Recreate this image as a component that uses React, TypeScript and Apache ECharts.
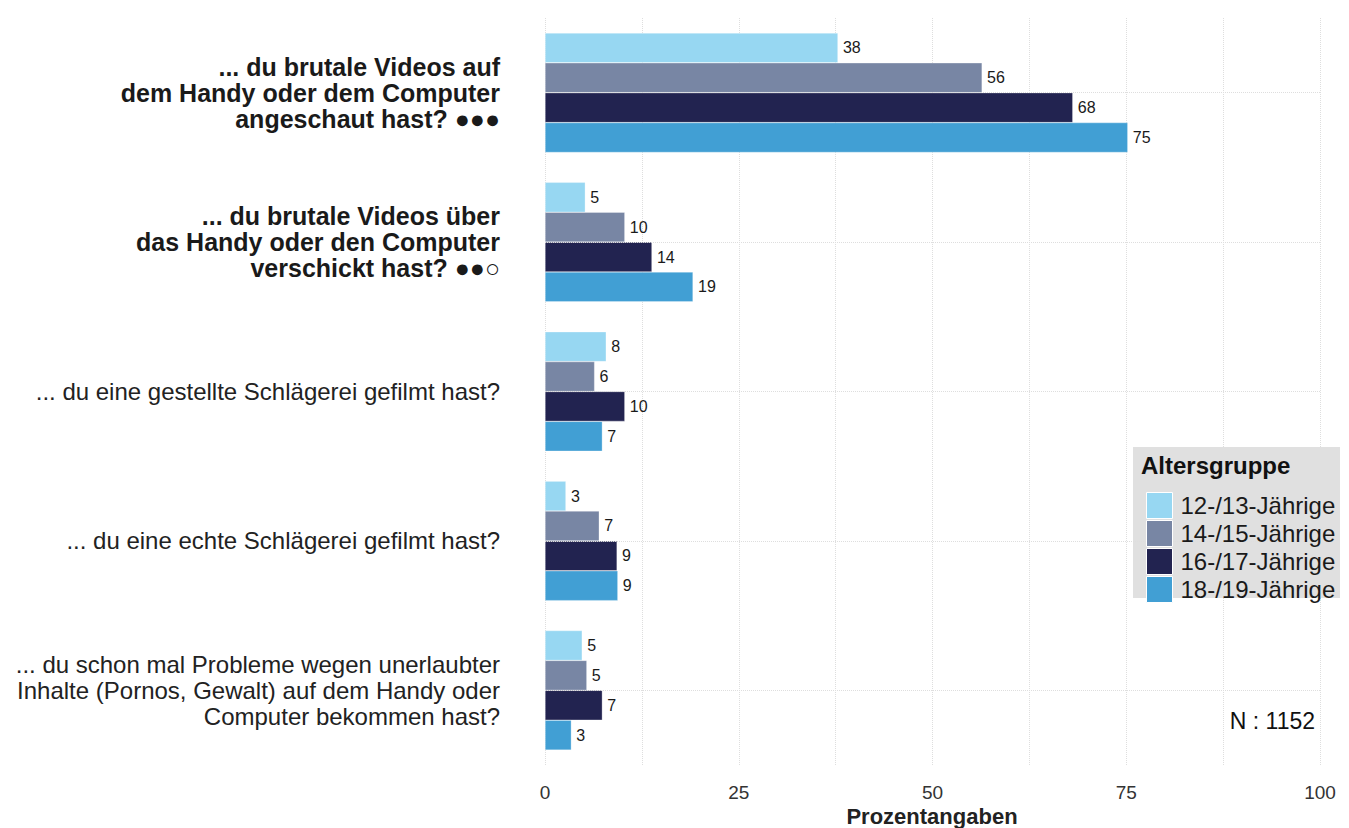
import React, { useEffect, useRef } from "react";
import * as echarts from "echarts";

const categories = [
  "{b|... du brutale Videos auf}\n{b|dem Handy oder dem Computer}\n{b|angeschaut hast? ●●●}",
  "{b|... du brutale Videos über}\n{b|das Handy oder den Computer}\n{b|verschickt hast? ●●○}",
  "{n|... du eine gestellte Schlägerei gefilmt hast?}",
  "{n|... du eine echte Schlägerei gefilmt hast?}",
  "{n|... du schon mal Probleme wegen unerlaubter}\n{n|Inhalte (Pornos, Gewalt) auf dem Handy oder}\n{n|Computer bekommen hast?}",
];
const catKeys = ["c1", "c2", "c3", "c4", "c5"];

const seriesNames = ["12-/13-Jährige", "14-/15-Jährige", "16-/17-Jährige", "18-/19-Jährige"];
const age1213 = [37.8, 5.2, 7.9, 2.7, 4.8];
const age1415 = [56.4, 10.3, 6.4, 7.0, 5.4];
const age1617 = [68.1, 13.8, 10.3, 9.3, 7.4];
const age1819 = [75.2, 19.1, 7.4, 9.4, 3.4];
const seriesValues = [age1213, age1415, age1617, age1819];
const colors = ["#97D7F2", "#7886A4", "#222350", "#419FD4"];
const xTicks = [0, 25, 50, 75, 100];
const xTitle = "Prozentangaben";
const legendTitle = "Altersgruppe";
const sampleNote = "N : 1152";

export default function App() {
  const ref = useRef<HTMLDivElement>(null);
  useEffect(() => {
    if (!ref.current) return;
    const chart = echarts.init(ref.current, null, { renderer: "svg" });
    const font = "'Liberation Sans', Arial, sans-serif";
    const series: any[] = seriesNames.map((name, i) => ({
      name,
      type: "bar",
      data: seriesValues[i],
      barGap: "0%",
      barCategoryGap: "20%",
      z: 3,
      itemStyle: { color: colors[i], borderColor: "rgba(255,255,255,0.6)", borderWidth: 0.5 },
      label: {
        show: true,
        position: "right",
        distance: 5,
        fontSize: 16,
        color: "#1a1a1a",
        fontFamily: font,
        formatter: (p: any) => String(Math.round(p.value)),
      },
    }));
    series.push({
      name: "grid",
      type: "line",
      data: [],
      silent: true,
      z: 1,
      markLine: {
        silent: true,
        symbol: "none",
        label: { show: false },
        lineStyle: { color: "#dedede", type: "dotted", width: 1 },
        data: catKeys.map((k) => ({ yAxis: k })),
      },
    });
    chart.setOption({
      animation: false,
      textStyle: { fontFamily: font },
      grid: { left: 545, right: 29, top: 18, bottom: 63, containLabel: false, outerBoundsMode: "none" },
      xAxis: {
        type: "value",
        min: 0,
        max: 100,
        interval: 25,
        axisLine: { show: false },
        axisTick: { show: false },
        axisLabel: {
          fontSize: 19,
          lineHeight: 19,
          color: "#333",
          margin: 18,
          formatter: (v: number) => (xTicks.includes(v) ? String(v) : ""),
        },
        splitLine: { show: true, lineStyle: { color: "#dedede", type: "dotted", width: 1 } },
        minorTick: { show: false, splitNumber: 2 },
        minorSplitLine: { show: true, lineStyle: { color: "#dedede", type: "dotted", width: 1 } },
      },
      yAxis: {
        type: "category",
        inverse: true,
        data: catKeys,
        axisLine: { show: false },
        axisTick: { show: false },
        splitLine: { show: false },
        axisLabel: {
          margin: 45,
          align: "right",
          formatter: (v: string) => categories[catKeys.indexOf(v)],
          rich: {
            b: { fontSize: 25, fontWeight: "bold", color: "#1a1a1a", lineHeight: 26, align: "right", fontFamily: font },
            n: { fontSize: 24, color: "#222", lineHeight: 26, align: "right", fontFamily: font },
          },
        },
      },
      legend: {
        orient: "vertical",
        left: 1141,
        top: 487,
        itemGap: 1,
        itemWidth: 26,
        itemHeight: 26,
        icon: "rect",
        z: 10,
        selectedMode: false,
        data: seriesNames,
        itemStyle: { borderColor: "#ffffff", borderWidth: 1 },
        textStyle: { fontSize: 24, lineHeight: 26, color: "#1a1a1a", padding: [0, 0, 0, 3], fontFamily: font },
      },
      graphic: [
        { type: "rect", left: 1133, top: 447, shape: { width: 207, height: 151 }, style: { fill: "#E0E0E0" }, z: 1 },
        { type: "text", left: 1141, top: 453, style: { text: legendTitle, fontSize: 24, fontWeight: "bold", fill: "#111", fontFamily: font }, z: 2 },
        { type: "text", right: 34, top: 709, style: { text: sampleNote, fontSize: 23, fill: "#111", fontFamily: font }, z: 2 },
        {
          type: "text",
          x: 932,
          y: 816,
          style: { text: xTitle, fontSize: 22, fontWeight: "bold", fill: "#222", fontFamily: font, align: "center", verticalAlign: "middle" },
          z: 2,
        },
      ],
      series,
    });
    return () => chart.dispose();
  }, []);
  return <div ref={ref} style={{ width: 1349, height: 828, position: "absolute", left: 0, top: 0 }} />;
}
